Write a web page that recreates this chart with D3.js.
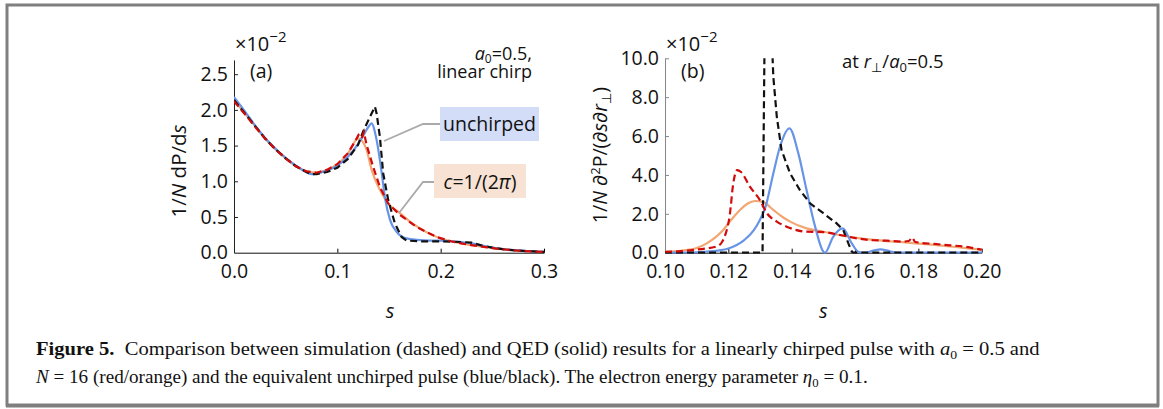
<!DOCTYPE html>
<html>
<head>
<meta charset="utf-8">
<script src="https://cdn.jsdelivr.net/npm/d3@7"></script>
<style>
  body { margin: 0; background: #fff; }
  svg text { font-family: "Open Sans", "DejaVu Sans", sans-serif; fill: #111; }
  .cap text { font-family: "Liberation Serif", "DejaVu Serif", serif; }
</style>
</head>
<body>
<div id="fig"></div>
<script>
// ---- panel (a) data: 1/N dP/ds (x10^-2) ----
var aBlueS   = [0, 0.01, 0.02, 0.03, 0.04, 0.05, 0.06, 0.07, 0.075, 0.08, 0.09, 0.10, 0.11, 0.12, 0.125, 0.13, 0.133, 0.138, 0.143, 0.146, 0.151, 0.157, 0.167, 0.177, 0.19, 0.20, 0.21, 0.22, 0.23, 0.24, 0.25, 0.26, 0.27, 0.28, 0.29, 0.30];
var aBlueV   = [2.18, 1.99, 1.79, 1.61, 1.46, 1.33, 1.22, 1.13, 1.10, 1.11, 1.15, 1.22, 1.34, 1.52, 1.64, 1.76, 1.81, 1.58, 1.11, 0.78, 0.46, 0.30, 0.20, 0.18, 0.17, 0.17, 0.16, 0.15, 0.13, 0.10, 0.07, 0.05, 0.035, 0.025, 0.018, 0.012];
var aBlackS  = [0, 0.01, 0.02, 0.03, 0.04, 0.05, 0.06, 0.07, 0.075, 0.08, 0.09, 0.10, 0.11, 0.12, 0.125, 0.1315, 0.1364, 0.138, 0.1412, 0.1444, 0.1492, 0.1557, 0.1622, 0.167, 0.18, 0.20, 0.21, 0.22, 0.23, 0.24, 0.25, 0.26, 0.27, 0.28, 0.29, 0.30];
var aBlackV  = [2.14, 1.96, 1.78, 1.60, 1.45, 1.32, 1.21, 1.13, 1.10, 1.10, 1.13, 1.19, 1.31, 1.51, 1.70, 1.90, 2.045, 1.95, 1.62, 1.11, 0.74, 0.41, 0.22, 0.17, 0.16, 0.16, 0.155, 0.15, 0.14, 0.10, 0.07, 0.05, 0.035, 0.025, 0.018, 0.012];
var aOrangeS = [0, 0.01, 0.02, 0.03, 0.04, 0.05, 0.06, 0.07, 0.08, 0.09, 0.10, 0.11, 0.1202, 0.1283, 0.1332, 0.1412, 0.1492, 0.16, 0.17, 0.18, 0.19, 0.20, 0.21, 0.22, 0.23, 0.24, 0.25, 0.26, 0.27, 0.28, 0.29, 0.30];
var aOrangeV = [2.14, 1.96, 1.78, 1.60, 1.45, 1.32, 1.21, 1.14, 1.12, 1.16, 1.24, 1.38, 1.60, 1.44, 1.16, 0.88, 0.69, 0.56, 0.44, 0.34, 0.26, 0.20, 0.16, 0.13, 0.105, 0.085, 0.065, 0.048, 0.035, 0.024, 0.017, 0.01];
var aRedS    = [0, 0.01, 0.02, 0.03, 0.04, 0.05, 0.06, 0.07, 0.08, 0.09, 0.10, 0.11, 0.118, 0.1205, 0.1235, 0.1257, 0.1283, 0.1347, 0.1412, 0.1492, 0.1605, 0.1767, 0.196, 0.21, 0.22, 0.23, 0.24, 0.25, 0.26, 0.27, 0.28, 0.29, 0.30];
var aRedV    = [2.12, 1.95, 1.77, 1.60, 1.45, 1.32, 1.21, 1.14, 1.12, 1.16, 1.24, 1.39, 1.58, 1.65, 1.60, 1.69, 1.51, 1.20, 0.92, 0.69, 0.53, 0.36, 0.22, 0.16, 0.13, 0.105, 0.085, 0.065, 0.048, 0.035, 0.024, 0.017, 0.01];
var aXTicks = [0, 0.1, 0.2, 0.3];
var aYTicks = [0, 0.5, 1.0, 1.5, 2.0, 2.5];

// ---- panel (b) data: 1/N d2P/(ds dr) at r/a0 = 0.5 (x10^-2) ----
var bBlueS   = [0.100, 0.110, 0.115, 0.120, 0.125, 0.128, 0.130, 0.1316, 0.1342, 0.1363, 0.1393, 0.1421, 0.1447, 0.1474, 0.1500, 0.1505, 0.1531, 0.1561, 0.1590, 0.1610, 0.1630, 0.1660, 0.1680, 0.1700, 0.1720, 0.1740, 0.200];
var bBlueV   = [0, 0.02, 0.08, 0.22, 0.65, 1.15, 1.70, 2.28, 4.08, 5.45, 6.40, 5.11, 3.22, 1.34, 0.05, 0, 0.82, 1.25, 0.48, 0.05, 0, 0.12, 0.17, 0.12, 0.03, 0, 0];
var bBlackS  = [0.100, 0.1308, 0.1315, 0.1335, 0.1342, 0.1353, 0.1368, 0.1395, 0.1426, 0.1458, 0.1500, 0.1542, 0.1563, 0.1579, 0.1590, 0.1595, 0.200];
var bBlackV  = [0, 0, 12, 12, 9.05, 7.0, 5.28, 4.08, 3.22, 2.54, 2.03, 1.51, 1.17, 0.48, 0.05, 0, 0];
var bOrangeS = [0.100, 0.105, 0.110, 0.1132, 0.116, 0.118, 0.120, 0.122, 0.124, 0.126, 0.1284, 0.131, 0.1342, 0.137, 0.1395, 0.1447, 0.150, 0.155, 0.160, 0.166, 0.170, 0.175, 0.180, 0.185, 0.190, 0.195, 0.200];
var bOrangeV = [0.05, 0.10, 0.24, 0.48, 0.80, 1.10, 1.50, 1.90, 2.25, 2.52, 2.66, 2.60, 2.20, 1.85, 1.60, 1.25, 1.08, 0.91, 0.78, 0.66, 0.60, 0.54, 0.47, 0.40, 0.32, 0.24, 0.16];
var bRedS    = [0.100, 0.105, 0.110, 0.1163, 0.118, 0.119, 0.1205, 0.1215, 0.1228, 0.124, 0.1268, 0.130, 0.1321, 0.1353, 0.1384, 0.1447, 0.150, 0.1553, 0.1605, 0.1658, 0.170, 0.175, 0.177, 0.178, 0.179, 0.185, 0.190, 0.195, 0.200];
var bRedV    = [0.05, 0.08, 0.16, 0.32, 0.55, 0.90, 2.00, 3.50, 4.25, 4.15, 3.40, 2.70, 2.05, 1.60, 1.34, 1.08, 1.06, 0.91, 0.74, 0.64, 0.62, 0.57, 0.60, 0.78, 0.55, 0.45, 0.38, 0.30, 0.15];
var bXTicks = [0.10, 0.12, 0.14, 0.16, 0.18, 0.20];
var bYTicks = [0, 2, 4, 6, 8, 10];

var W = 1163, H = 409;
var svg = d3.select("#fig").append("svg")
  .attr("width", W)
  .attr("height", H);

// outer frame
svg.append("rect")
  .attr("x", 7).attr("y", 5)
  .attr("width", 1151).attr("height", 400)
  .attr("fill", "none")
  .attr("stroke", "#7f7f7f")
  .attr("stroke-width", 3);
svg.append("line")
  .attr("x1", 6).attr("x2", 1159).attr("y1", 406).attr("y2", 406)
  .attr("stroke", "#7f7f7f").attr("stroke-width", 3);

var blue = "#6794e6", black = "#111", orange = "#f2a672", red = "#d10a0a";

function zip(s, v) { return s.map((d, i) => [d, v[i]]); }

function drawPanel(cfg) {
  var x = d3.scaleLinear().domain(cfg.xDomain).range(cfg.xRange);
  var y = d3.scaleLinear().domain(cfg.yDomain).range(cfg.yRange);
  var g = svg.append("g");

  g.append("clipPath").attr("id", cfg.id + "clip")
    .append("rect")
    .attr("x", cfg.xRange[0]).attr("y", cfg.yRange[1])
    .attr("width", cfg.xRange[1] - cfg.xRange[0] + 2)
    .attr("height", cfg.yRange[0] - cfg.yRange[1] + 1);

  var xAxis = d3.axisBottom(x).tickValues(cfg.xTicks).tickFormat(cfg.xFmt)
    .tickSizeInner(-4).tickSizeOuter(0).tickPadding(9);
  var yAxis = d3.axisLeft(y).tickValues(cfg.yTicks).tickFormat(d3.format(".1f"))
    .tickSizeInner(-4).tickSizeOuter(0).tickPadding(6);

  var gx = g.append("g")
    .attr("transform", `translate(0, ${cfg.yRange[0]})`)
    .call(xAxis);
  var gy = g.append("g")
    .attr("transform", `translate(${cfg.xRange[0]}, 0)`)
    .call(yAxis);
  gx.selectAll("text").style("font-size", "19.5px").attr("fill", "#111");
  gy.selectAll("text").style("font-size", "19.5px").attr("fill", "#111");
  gx.select(".domain").attr("stroke", "#111");
  gy.select(".domain").attr("stroke", cfg.yAxisColor);
  gy.selectAll(".tick line").attr("stroke", cfg.yAxisColor);
  gx.selectAll("text").attr("dy", "0.85em");
  gx.selectAll(".tick").filter(d => d === cfg.xTicks[0]).select("line").remove();
  gy.selectAll(".tick").filter(d => d === cfg.yTicks[0]).select("line").remove();

  var plot = g.append("g").attr("clip-path", `url(#${cfg.id}clip)`);
  cfg.series.forEach(function(sr) {
    var line = d3.line()
      .x(d => x(d[0]))
      .y(d => y(d[1]))
      .curve(sr.curve);
    plot.append("path")
      .datum(zip(sr.s, sr.v))
      .attr("fill", "none")
      .attr("stroke", sr.color)
      .attr("stroke-width", 2.2)
      .attr("stroke-dasharray", sr.dash ? "7,4" : null)
      .attr("d", line);
  });

  // x10^-2 multiplier
  var m = g.append("text")
    .attr("x", cfg.xRange[0] + 1)
    .attr("y", 51)
    .style("font-size", "20px");
  m.append("tspan").text("\u00d710");
  m.append("tspan").attr("dy", -9).style("font-size", "15px").text("\u22122");

  g.append("text")
    .attr("x", cfg.xRange[0] + 16)
    .attr("y", 78)
    .style("font-size", "19.5px")
    .text(cfg.tag);

  g.append("text")
    .attr("x", (cfg.xRange[0] + cfg.xRange[1]) / 2 + cfg.sOffset)
    .attr("y", 318)
    .attr("text-anchor", "middle")
    .style("font-size", "20px")
    .style("font-style", "italic")
    .text("s");
  return {x: x, y: y, g: g};
}

// ---- panel (a) ----
var pa = drawPanel({
  id: "a",
  xDomain: [0, 0.3], xRange: [234, 544],
  yDomain: [0, 2.7], yRange: [252.7, 59.9],
  xTicks: aXTicks, yTicks: aYTicks,
  xFmt: d3.format(".1f"),
  yAxisColor: "#222",
  tag: "(a)", sOffset: 1,
  series: [
    {s: aOrangeS, v: aOrangeV, color: orange, dash: false, curve: d3.curveMonotoneX},
    {s: aBlueS, v: aBlueV, color: blue, dash: false, curve: d3.curveMonotoneX},
    {s: aBlackS, v: aBlackV, color: black, dash: true, curve: d3.curveLinear},
    {s: aRedS, v: aRedV, color: red, dash: true, curve: d3.curveLinear}
  ]
});

var yta = pa.g.append("text")
  .attr("transform", "translate(186, 171) rotate(-90)")
  .attr("text-anchor", "middle")
  .style("font-size", "20.5px");
yta.append("tspan").text("1/");
yta.append("tspan").style("font-style", "italic").text("N");
yta.append("tspan").text(" dP/d");
yta.append("tspan").style("font-style", "italic").text("s");

var t1 = pa.g.append("text").attr("x", 532).attr("y", 60)
  .attr("text-anchor", "end").style("font-size", "18px");
t1.append("tspan").style("font-style", "italic").text("a");
t1.append("tspan").attr("dy", 3).style("font-size", "12px").text("0");
t1.append("tspan").attr("dy", -3).text("=0.5,");
pa.g.append("text").attr("x", 532).attr("y", 78)
  .attr("text-anchor", "end").style("font-size", "18px").text("linear chirp");

// leader lines + labels
pa.g.append("path")
  .attr("d", "M384,141 L423,124 L440,124")
  .attr("fill", "none").attr("stroke", "#aaa").attr("stroke-width", 1.8);
pa.g.append("path")
  .attr("d", "M399,213 L423,182 L434,182")
  .attr("fill", "none").attr("stroke", "#aaa").attr("stroke-width", 1.8);
pa.g.append("rect").attr("x", 440).attr("y", 107).attr("width", 99).attr("height", 34)
  .attr("fill", "#d3ddf8");
pa.g.append("text").attr("x", 489.5).attr("y", 131).attr("text-anchor", "middle")
  .style("font-size", "19.5px").text("unchirped");
pa.g.append("rect").attr("x", 434).attr("y", 164).attr("width", 92).attr("height", 34)
  .attr("fill", "#f7e2d3");
var ct = pa.g.append("text").attr("x", 480).attr("y", 189).attr("text-anchor", "middle")
  .style("font-size", "19.5px");
ct.append("tspan").style("font-style", "italic").text("c");
ct.append("tspan").text("=1/(2");
ct.append("tspan").style("font-style", "italic").text("\u03c0");
ct.append("tspan").text(")");

// ---- panel (b) ----
var pb = drawPanel({
  id: "b",
  xDomain: [0.10, 0.20], xRange: [665, 981.7],
  yDomain: [0, 10], yRange: [252.7, 58.3],
  xTicks: bXTicks, yTicks: bYTicks,
  xFmt: d3.format(".2f"),
  yAxisColor: "#888",
  tag: "(b)", sOffset: 0,
  series: [
    {s: bOrangeS, v: bOrangeV, color: orange, dash: false, curve: d3.curveMonotoneX},
    {s: bBlueS, v: bBlueV, color: blue, dash: false, curve: d3.curveMonotoneX},
    {s: bBlackS, v: bBlackV, color: black, dash: true, curve: d3.curveLinear},
    {s: bRedS, v: bRedV, color: red, dash: true, curve: d3.curveMonotoneX}
  ]
});

var ytb = pb.g.append("text")
  .attr("transform", "translate(607, 155) rotate(-90)")
  .attr("text-anchor", "middle")
  .style("font-size", "19.5px");
ytb.append("tspan").text("1/");
ytb.append("tspan").style("font-style", "italic").text("N");
ytb.append("tspan").text(" \u2202");
ytb.append("tspan").attr("dy", -7).style("font-size", "13px").text("2");
ytb.append("tspan").attr("dy", 7).text("P/(\u2202");
ytb.append("tspan").style("font-style", "italic").text("s");
ytb.append("tspan").text("\u2202");
ytb.append("tspan").style("font-style", "italic").text("r");
ytb.append("tspan").attr("dy", 4).style("font-size", "13px").text("\u22a5");
ytb.append("tspan").attr("dy", -4).text(")");

var tb = pb.g.append("text").attr("x", 842).attr("y", 68).style("font-size", "18.5px");
tb.append("tspan").text("at ");
tb.append("tspan").style("font-style", "italic").text("r");
tb.append("tspan").attr("dy", 4).style("font-size", "13px").text("\u22a5");
tb.append("tspan").attr("dy", -4).text("/");
tb.append("tspan").style("font-style", "italic").text("a");
tb.append("tspan").attr("dy", 4).style("font-size", "13px").text("0");
tb.append("tspan").attr("dy", -4).text("=0.5");

// ---- caption (condensed serif: squeeze each line to the reference width) ----
var cap = svg.append("g").attr("class", "cap");
function capLine(y, width) {
  var t = cap.append("text").attr("x", 0).attr("y", 0).style("font-size", "19.5px");
  t.fit = function() {
    var w = t.node().getComputedTextLength();
    t.attr("transform", `translate(36, ${y}) scale(${width / w}, 1)`);
  };
  return t;
}
var l1 = capLine(355, 1004);
l1.append("tspan").style("font-weight", "bold").text("Figure 5.");
l1.append("tspan").text("\u2002Comparison between simulation (dashed) and QED (solid) results for a linearly chirped pulse with ");
l1.append("tspan").style("font-style", "italic").text("a");
l1.append("tspan").attr("dy", 4).style("font-size", "13px").text("0");
l1.append("tspan").attr("dy", -4).text(" = 0.5 and");
l1.fit();
var l2 = capLine(383, 832);
l2.append("tspan").style("font-style", "italic").text("N");
l2.append("tspan").text(" = 16 (red/orange) and the equivalent unchirped pulse (blue/black). The electron energy parameter ");
l2.append("tspan").style("font-style", "italic").text("\u03b7");
l2.append("tspan").attr("dy", 4).style("font-size", "13px").text("0");
l2.append("tspan").attr("dy", -4).text(" = 0.1.");
l2.fit();
</script>
</body>
</html>
